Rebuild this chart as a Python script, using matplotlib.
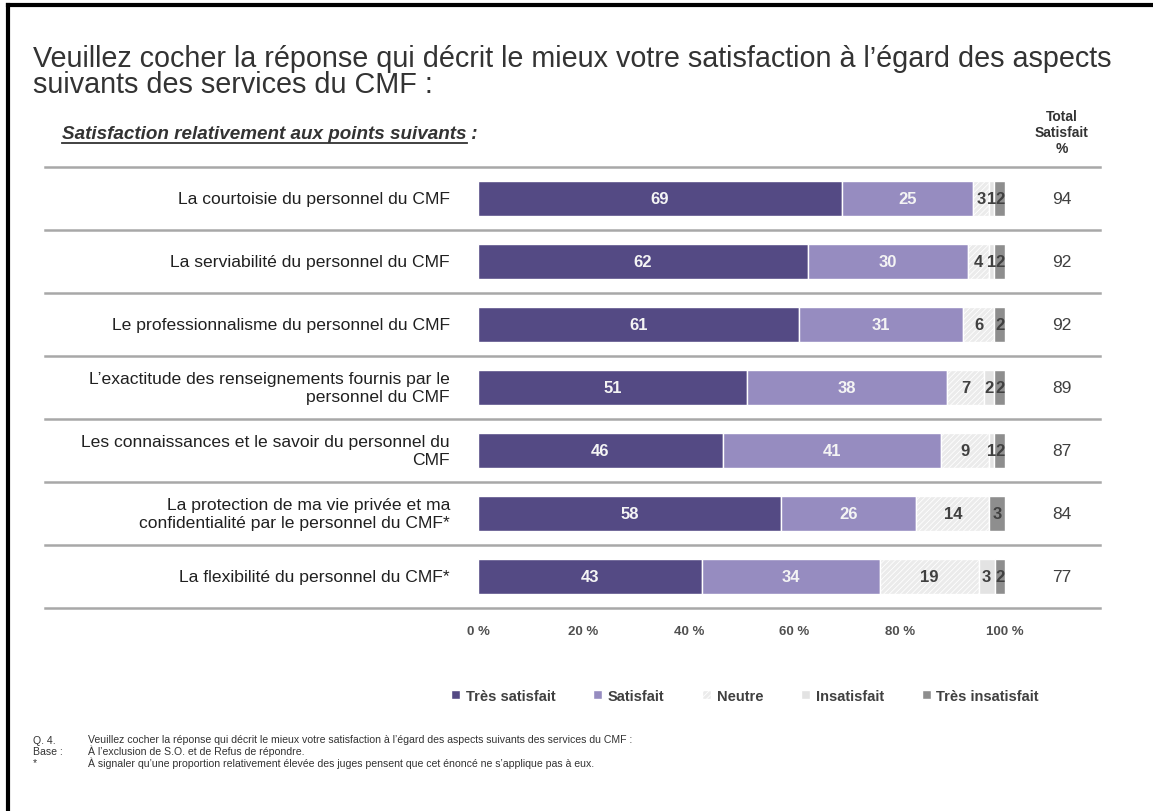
import numpy as np
import matplotlib.pyplot as plt
import matplotlib.transforms as mtransforms

plt.rcParams['font.family'] = ['Liberation Sans', 'DejaVu Sans']
plt.rcParams['hatch.color'] = '#cfcfcf'
plt.rcParams['hatch.linewidth'] = 0.6

categories = [
    "La courtoisie du personnel du CMF",
    "La serviabilité du personnel du CMF",
    "Le professionnalisme du personnel du CMF",
    "L\u2019exactitude des renseignements fournis par le\npersonnel du CMF",
    "Les connaissances et le savoir du personnel du\nCMF",
    "La protection de ma vie privée et ma\nconfidentialité par le personnel du CMF*",
    "La flexibilité du personnel du CMF*",
]

tres_satisfait = [69, 62, 61, 51, 46, 58, 43]
satisfait = [25, 30, 31, 38, 41, 26, 34]
neutre = [3, 4, 6, 7, 9, 14, 19]
insatisfait = [1, 1, 0, 2, 1, 0, 3]
tres_insatisfait = [2, 2, 2, 2, 2, 3, 2]
total_satisfait = [94, 92, 92, 89, 87, 84, 77]

series_names = ["Très satisfait", "Satisfait", "Neutre", "Insatisfait", "Très insatisfait"]
colors = ['#544a84', '#968cc0', '#ebebeb', '#e3e3e3', '#8e8e8e']
hatches = [None, None, '//////', None, None]
label_colors = ['#f4f4f4', '#f4f4f4', '#404040', '#404040', '#404040']

W, H = 1153, 812
fig = plt.figure(figsize=(W / 100, H / 100), dpi=100)

ax = fig.add_axes([478 / W, 1 - 609 / H, (1005 - 478) / W, (609 - 168) / H])
data = np.array([tres_satisfait, satisfait, neutre, insatisfait, tres_insatisfait], dtype=float)
norm = data / data.sum(axis=0) * 100
y = np.arange(len(categories))
left = np.zeros(len(categories))
for i in range(5):
    ax.barh(y, norm[i], left=left, height=0.54, color=colors[i], hatch=hatches[i],
            edgecolor='white', linewidth=1.0, label=series_names[i])
    for j in range(len(categories)):
        if data[i, j] > 0:
            ax.text(left[j] + norm[i, j] / 2, y[j], f"{int(data[i, j])}", ha='center', va='center',
                    fontsize=12, fontweight='bold', color=label_colors[i])
    left += norm[i]

ax.set_xlim(0, 100)
ax.set_ylim(len(categories) - 0.5, -0.5)
ax.set_yticks([])
ax.set_xticks([0, 20, 40, 60, 80, 100])
ax.set_xticklabels(['0 %', '20 %', '40 %', '60 %', '80 %', '100 %'], fontsize=9.5,
                   fontweight='bold', color='#505050')
ax.tick_params(axis='x', length=0, pad=12)
for s in ax.spines.values():
    s.set_visible(False)

# row separators
tr = mtransforms.blended_transform_factory(fig.transFigure, ax.transData)
for k in np.arange(len(categories) + 1) - 0.5:
    ax.plot([45 / W, 1100 / W], [k, k], transform=tr, color='#a8a8a8', lw=1.8, clip_on=False)

# category labels and totals
for j in range(len(categories)):
    ax.text(450 / W, y[j], categories[j], transform=tr, ha='right', va='center',
            fontsize=12.6, color='#202020', linespacing=1.25)
    ax.text(1062 / W, y[j], str(total_satisfait[j]), transform=tr, ha='center', va='center',
            fontsize=12.5, color='#404040')

# titles
fig.text(33 / W, 1 - 72 / H,
         "Veuillez cocher la réponse qui décrit le mieux votre satisfaction à l\u2019égard des aspects\nsuivants des services du CMF :",
         fontsize=20.7, color='#333333', va='center', ha='left', linespacing=0.95)
sub = fig.text(62 / W, 1 - 139 / H, "Satisfaction relativement aux points suivants", fontsize=13.6,
               fontweight='bold', style='italic', color='#333333', va='baseline', ha='left')
fig.canvas.draw()
bb = sub.get_window_extent()
fig.text(bb.x1 / W, 1 - 139 / H, " :", fontsize=13.6, fontweight='bold', style='italic',
         color='#333333', va='baseline', ha='left')
fig.add_artist(plt.Line2D([bb.x0 / W, bb.x1 / W], [(bb.y0 - 0.5) / H, (bb.y0 - 0.5) / H],
                          color='#333333', lw=1.3))
fig.text(1062 / W, 1 - 133 / H, "Total\nSatisfait\n%", fontsize=10, fontweight='bold',
         color='#333333', ha='center', va='center', linespacing=1.2)

# legend
leg = fig.legend(loc='center', bbox_to_anchor=(745 / W, 1 - 697 / H), ncol=5, frameon=False,
                 handlelength=0.6, handleheight=0.6, handletextpad=0.4, columnspacing=2.6,
                 prop={'size': 10.5, 'weight': 'bold'})
for t in leg.get_texts():
    t.set_color('#404040')

# footnotes
notes_a = ["Q. 4.", "Base :", "*"]
notes_b = ["Veuillez cocher la réponse qui décrit le mieux votre satisfaction à l\u2019égard des aspects suivants des services du CMF :",
           "À l\u2019exclusion de S.O. et de Refus de répondre.",
           "À signaler qu\u2019une proportion relativement élevée des juges pensent que cet énoncé ne s\u2019applique pas à eux."]
fig.text(33 / W, 1 - 752 / H, "\n".join(notes_a), fontsize=7.6, color='#333333', va='center',
         linespacing=1.1)
fig.text(88 / W, 1 - 752 / H, "\n".join(notes_b), fontsize=7.6, color='#333333', va='center',
         linespacing=1.1)

# frame lines (top and left)
fig.add_artist(plt.Line2D([8 / W, 1], [1 - 6 / H, 1 - 6 / H], color='black', lw=3))
fig.add_artist(plt.Line2D([8 / W, 8 / W], [0, 1 - 6 / H], color='black', lw=3))

fig.savefig('out.png', dpi=100)
